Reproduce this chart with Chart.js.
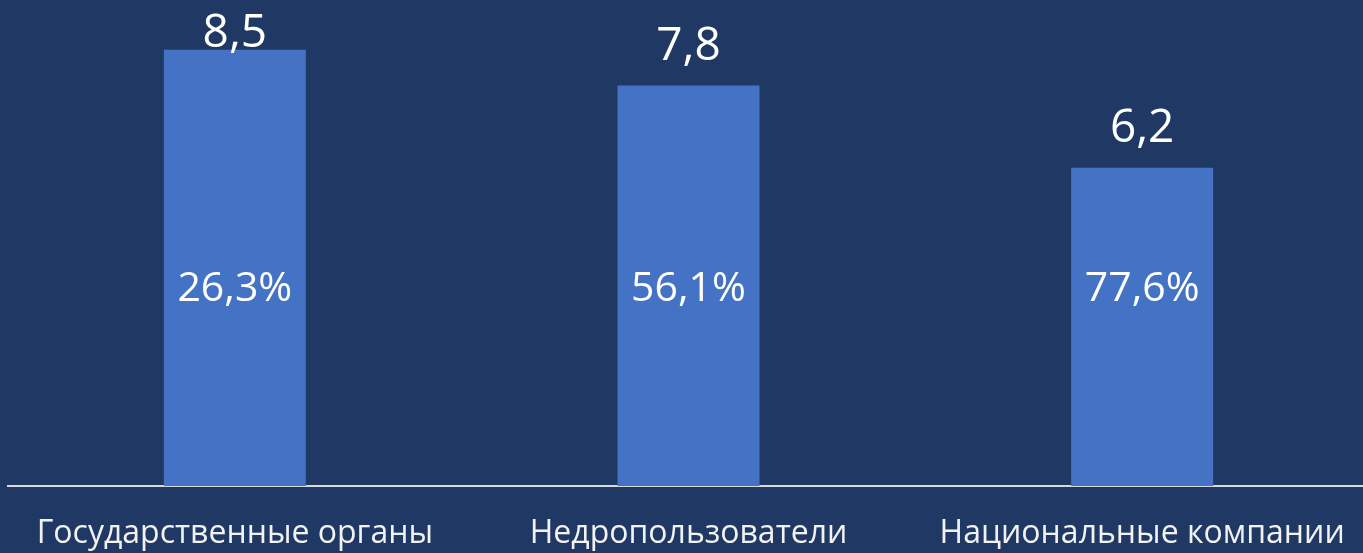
<!DOCTYPE html>
<html>
<head>
<meta charset="utf-8">
<script src="https://cdn.jsdelivr.net/npm/chart.js@4"></script>
<style>
  html, body { margin: 0; padding: 0; background: #1f3864; overflow: hidden; }
  #wrap { position: relative; width: 1369px; height: 553px; }
</style>
</head>
<body>
<div id="wrap"><canvas id="grafico"></canvas></div>
<script>
const CATEGORIE = ['Государственные органы', 'Недропользователи', 'Национальные компании'];
const VALORI = [8.5, 7.8, 6.2];
const PERCENTUALI = ['26,3%', '56,1%', '77,6%'];

const fmt = v => v.toFixed(1).replace('.', ',');

// etichette sopra e dentro le barre
const etichette = {
  id: 'etichette',
  afterDatasetsDraw(chart) {
    const ctx = chart.ctx;
    const meta = chart.getDatasetMeta(0);
    const y = chart.scales.y;
    ctx.save();
    ctx.fillStyle = '#ffffff';
    ctx.textAlign = 'center';
    ctx.textBaseline = 'alphabetic';
    meta.data.forEach((bar, i) => {
      ctx.font = '46px "Open Sans"';
      const by = Math.max(bar.y - 26, 47);
      ctx.fillText(fmt(VALORI[i]), bar.x, by);
      ctx.font = '41px "Open Sans"';
      ctx.fillText(PERCENTUALI[i], bar.x, y.getPixelForValue(3.6));
    });
    ctx.restore();
  }
};

new Chart(document.getElementById('grafico'), {
  type: 'bar',
  data: {
    labels: CATEGORIE,
    datasets: [{
      data: VALORI,
      backgroundColor: '#4472c4',
      barPercentage: 1,
      categoryPercentage: 0.313
    }]
  },
  options: {
    responsive: true,
    maintainAspectRatio: false,
    animation: false,
    layout: { padding: { left: 8, top: 24, right: 0, bottom: 0 } },
    plugins: { legend: { display: false }, tooltip: { enabled: false } },
    scales: {
      x: {
        grid: { display: false, drawTicks: false },
        border: { display: true, color: '#d9d9d9', width: 2 },
        ticks: {
          color: '#f2f2f2',
          font: { family: 'Open Sans', size: 32 },
          padding: 29,
          maxRotation: 0,
          autoSkip: false
        },
        afterFit: s => { s.height = 67; s.paddingLeft = 0; s.paddingRight = 0; }
      },
      y: { display: false, min: 0, max: 9 }
    }
  },
  plugins: [etichette]
});
</script>
</body>
</html>
